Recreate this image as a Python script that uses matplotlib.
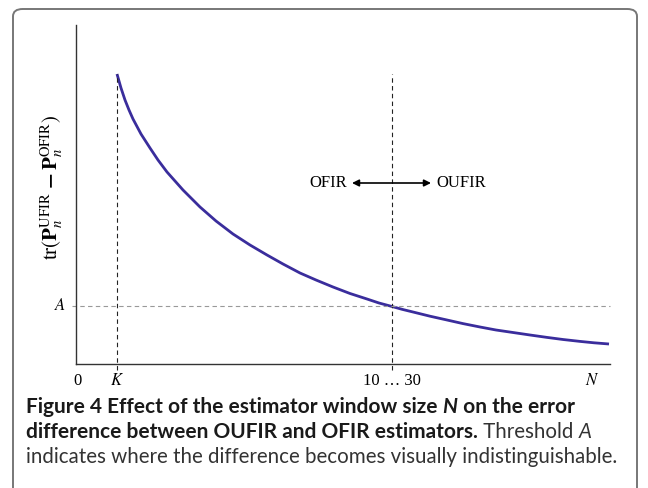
import matplotlib.pyplot as plt
from matplotlib.patches import FancyBboxPatch

# window size (arbitrary units along the axis) and the error difference
window_n = [41, 45, 49, 53, 57, 65, 74, 82, 91, 107, 124, 140, 157, 174, 191,
            207, 224, 240, 257, 274, 291, 303, 316, 326, 337, 354, 371, 387,
            404, 420, 437, 454, 471, 487, 504, 518, 533]
err_diff = [290, 276, 264, 254, 245, 230, 216, 204, 192, 174, 157, 143, 130, 119, 109,
            100, 91, 84, 77, 70.5, 65, 61, 57.5, 54.7, 52, 47.8, 44, 40.4,
            37, 34, 31.5, 29, 26.6, 24.5, 22.6, 21.2, 20]

k_pos = 41
switch_pos = 316
thresh_a = 58
x_max = 534
y_max = 339

tick_pos = [1, k_pos, switch_pos, 516]
tick_labels = ["0", "$K$", "10 \u2026 30", "$N$"]

plt.rcParams["mathtext.fontset"] = "stix"
serif = "Liberation Serif"

fig = plt.figure(figsize=(6.48, 4.88), dpi=100)

# rounded frame around the figure
frame = FancyBboxPatch((13 / 648, -0.05), 624 / 648, 1 - 9 / 488 + 0.05,
                       boxstyle="round,pad=0,rounding_size=0.015",
                       transform=fig.transFigure, fill=False,
                       edgecolor="#777777", linewidth=1.4)
fig.patches.append(frame)

ax = fig.add_axes([76 / 648, 124 / 488, 534 / 648, 339 / 488])
ax.set_xlim(0, x_max)
ax.set_ylim(0, y_max)
for s in ["top", "right"]:
    ax.spines[s].set_visible(False)
for s in ["left", "bottom"]:
    ax.spines[s].set_color("#333333")
    ax.spines[s].set_linewidth(1.0)

ax.plot(window_n, err_diff, color="#3a2d9c", lw=2.0,
        solid_capstyle="butt", solid_joinstyle="round")

# guide lines
ax.plot([k_pos, k_pos], [-6, err_diff[0]], color="#222222", lw=0.8,
        ls=(0, (4, 3)), clip_on=False)
ax.plot([switch_pos, switch_pos], [-6, err_diff[0]], color="#222222", lw=0.8,
        ls=(0, (4, 3)), clip_on=False)
ax.plot([-4, x_max], [thresh_a, thresh_a], color="#999999", lw=0.8,
        ls=(0, (4, 3)), clip_on=False)

ax.set_xticks([])
ax.set_yticks([])
for p, lab in zip(tick_pos, tick_labels):
    ax.text(p, -17, lab, ha="center", va="center", fontsize=12,
            family=serif, clip_on=False)
ax.text(-16, thresh_a, "$A$", ha="center", va="center", fontsize=12,
        family=serif, clip_on=False)

# OFIR <-> OUFIR
ax.annotate("", xy=(276, 181), xytext=(355, 181),
            arrowprops=dict(arrowstyle="<|-|>", color="black", lw=1.2,
                            mutation_scale=10, shrinkA=0, shrinkB=0))
ax.text(271, 181, "OFIR", ha="right", va="center", fontsize=12, family=serif)
ax.text(360, 181, "OUFIR", ha="left", va="center", fontsize=12, family=serif)

ax.set_ylabel(r"$\mathrm{tr}(\mathbf{P}_n^{\mathrm{UFIR}}\ \mathbf{-}\,\mathbf{P}_n^{\mathrm{OFIR}})$",
              fontsize=15)
ax.yaxis.set_label_coords(-11 / 534, 0.52)

# caption, written piece by piece so bold and regular runs can share a line
cap = "Lato"
cap_size = 15
caption_lines = [
    [("Figure 4 Effect of the estimator window size ", "bold", "normal", 15),
     ("N", "bold", "italic", 15),
     (" on the error", "bold", "normal", 15)],
    [("difference between OUFIR and OFIR estimators.", "bold", "normal", 15),
     (" Threshold ", "normal", "normal", 14.8),
     ("A", "normal", "italic", 14.8)],
    [("indicates where the difference becomes visually indistinguishable.",
      "normal", "normal", 14.8)],
]
line_y = [407, 432, 457]

renderer = fig.canvas.get_renderer()
for pieces, yy in zip(caption_lines, line_y):
    x0 = 26 / 648
    for txt, wt, st, sz in pieces:
        t = fig.text(x0, 1 - yy / 488, txt, fontsize=sz, fontweight=wt,
                     fontstyle=st, family=cap, va="center",
                     color="#1a1a1a" if wt == "bold" else "#333333")
        bb = t.get_window_extent(renderer)
        x0 = fig.transFigure.inverted().transform((bb.x1, 0))[0]

fig.savefig("out.png", dpi=100)
